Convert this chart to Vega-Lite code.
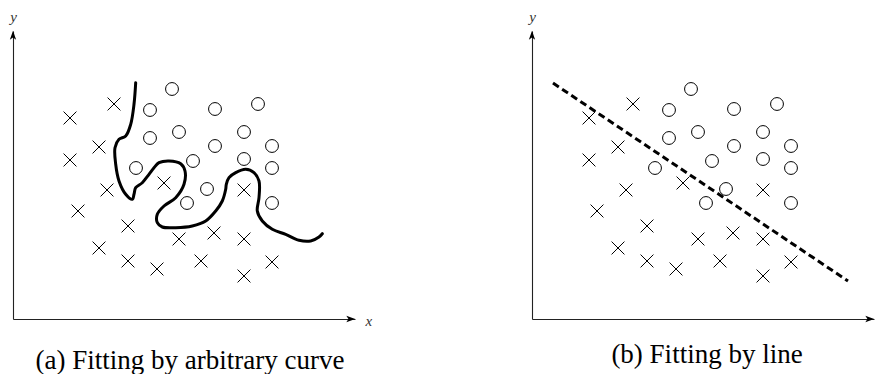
{
  "$schema": "https://vega.github.io/schema/vega-lite/v6.json",
  "background": "white",
  "padding": {"left": 9, "top": 9, "right": 4, "bottom": 0},
  "spacing": 156,
  "datasets": {
    "pts": [
      {"x": 57, "y": 201, "kind": "cross"},
      {"x": 101, "y": 215, "kind": "cross"},
      {"x": 86, "y": 172, "kind": "cross"},
      {"x": 57, "y": 159, "kind": "cross"},
      {"x": 94, "y": 129, "kind": "cross"},
      {"x": 65, "y": 108, "kind": "cross"},
      {"x": 115, "y": 93, "kind": "cross"},
      {"x": 86, "y": 71, "kind": "cross"},
      {"x": 115, "y": 58, "kind": "cross"},
      {"x": 144, "y": 50, "kind": "cross"},
      {"x": 151, "y": 136, "kind": "cross"},
      {"x": 166, "y": 80, "kind": "cross"},
      {"x": 188, "y": 58, "kind": "cross"},
      {"x": 201, "y": 86, "kind": "cross"},
      {"x": 231, "y": 80, "kind": "cross"},
      {"x": 231, "y": 129, "kind": "cross"},
      {"x": 231, "y": 43, "kind": "cross"},
      {"x": 259, "y": 57, "kind": "cross"},
      {"x": 159, "y": 230, "kind": "circle"},
      {"x": 137, "y": 209, "kind": "circle"},
      {"x": 202, "y": 210, "kind": "circle"},
      {"x": 245, "y": 215, "kind": "circle"},
      {"x": 166, "y": 187, "kind": "circle"},
      {"x": 137, "y": 181, "kind": "circle"},
      {"x": 231, "y": 187, "kind": "circle"},
      {"x": 202, "y": 173, "kind": "circle"},
      {"x": 259, "y": 173, "kind": "circle"},
      {"x": 123, "y": 151, "kind": "circle"},
      {"x": 180, "y": 158, "kind": "circle"},
      {"x": 231, "y": 160, "kind": "circle"},
      {"x": 259, "y": 151, "kind": "circle"},
      {"x": 194, "y": 130, "kind": "circle"},
      {"x": 174, "y": 116, "kind": "circle"},
      {"x": 259, "y": 116, "kind": "circle"}
    ],
    "curve": [
      {"i": 0, "x": 122.7, "y": 236.3},
      {"i": 1, "x": 121, "y": 214.7},
      {"i": 2, "x": 117.7, "y": 194.7},
      {"i": 3, "x": 112.7, "y": 183},
      {"i": 4, "x": 106, "y": 179.7},
      {"i": 5, "x": 102, "y": 171.3},
      {"i": 6, "x": 102.7, "y": 154.7},
      {"i": 7, "x": 106, "y": 138},
      {"i": 8, "x": 112.7, "y": 124.7},
      {"i": 9, "x": 119.3, "y": 119.7},
      {"i": 10, "x": 121, "y": 124.7},
      {"i": 11, "x": 122.7, "y": 131.3},
      {"i": 12, "x": 129.3, "y": 136.3},
      {"i": 13, "x": 136, "y": 144.7},
      {"i": 14, "x": 141, "y": 151.3},
      {"i": 15, "x": 146, "y": 156.3},
      {"i": 16, "x": 156, "y": 158},
      {"i": 17, "x": 167.7, "y": 155.3},
      {"i": 18, "x": 172, "y": 148},
      {"i": 19, "x": 171, "y": 134.7},
      {"i": 20, "x": 162.7, "y": 121.3},
      {"i": 21, "x": 151, "y": 113},
      {"i": 22, "x": 144.3, "y": 104.7},
      {"i": 23, "x": 144.3, "y": 96.3},
      {"i": 24, "x": 149.3, "y": 92},
      {"i": 25, "x": 162.7, "y": 91.3},
      {"i": 26, "x": 179.3, "y": 93},
      {"i": 27, "x": 192.7, "y": 98},
      {"i": 28, "x": 202.7, "y": 108},
      {"i": 29, "x": 209.3, "y": 118},
      {"i": 30, "x": 212.7, "y": 129.7},
      {"i": 31, "x": 213.3, "y": 134.7},
      {"i": 32, "x": 216, "y": 141.3},
      {"i": 33, "x": 222.7, "y": 146.3},
      {"i": 34, "x": 232.7, "y": 149.7},
      {"i": 35, "x": 241, "y": 146.3},
      {"i": 36, "x": 246, "y": 138},
      {"i": 37, "x": 246, "y": 121.3},
      {"i": 38, "x": 244.3, "y": 108},
      {"i": 39, "x": 249.3, "y": 98},
      {"i": 40, "x": 259.3, "y": 89.7},
      {"i": 41, "x": 272.7, "y": 84.7},
      {"i": 42, "x": 286, "y": 78.7},
      {"i": 43, "x": 297.7, "y": 78},
      {"i": 44, "x": 306, "y": 82},
      {"i": 45, "x": 309.3, "y": 85.3}
    ],
    "fitline": [
      {"x": 21, "y": 236},
      {"x": 316, "y": 38}
    ],
    "xarrow": [{"x": 337, "y": 0}],
    "yarrow": [{"x": 0, "y": 283}]
  },
  "hconcat": [
    {
      "width": 342,
      "height": 288,
      "title": {"text": "(a) Fitting by arbitrary curve", "orient": "bottom", "dx": 6, "offset": 20},
      "layer": [
        {
          "data": {"name": "pts"},
          "mark": {"type": "point", "filled": false, "opacity": 1, "stroke": "#000", "strokeWidth": 1, "size": 165},
          "encoding": {
            "x": {"field": "x", "type": "quantitative", "scale": {"domain": [0, 342], "nice": false, "zero": false},
                  "axis": {"title": "x", "titleAnchor": "end", "titleAlign": "left", "titleBaseline": "middle", "titleX": 352, "titleY": 1}},
            "y": {"field": "y", "type": "quantitative", "scale": {"domain": [0, 288], "nice": false, "zero": false},
                  "axis": {"title": "y", "titleAngle": 0, "titleAlign": "center", "titleBaseline": "middle", "titleX": 0, "titleY": -15}},
            "shape": {"field": "kind", "type": "nominal", "legend": null,
                      "scale": {"domain": ["cross", "circle"], "range": ["M-1,-1L1,1M-1,1L1,-1", "circle"]}}
          }
        },
        {
          "data": {"name": "curve"},
          "mark": {"type": "line", "interpolate": "catmull-rom", "stroke": "#000", "strokeWidth": 3, "strokeCap": "round", "strokeJoin": "round"},
          "encoding": {
            "x": {"field": "x", "type": "quantitative"},
            "y": {"field": "y", "type": "quantitative"},
            "order": {"field": "i", "type": "quantitative"}
          }
        },
        {
          "data": {"name": "xarrow"},
          "mark": {"type": "point", "shape": "M1,0L-0.7,0.6L-0.3,0L-0.7,-0.6Z", "filled": true, "color": "#000", "opacity": 1, "size": 110},
          "encoding": {"x": {"field": "x", "type": "quantitative"}, "y": {"field": "y", "type": "quantitative"}}
        },
        {
          "data": {"name": "yarrow"},
          "mark": {"type": "point", "shape": "M0,-1L0.6,0.7L0,0.3L-0.6,0.7Z", "filled": true, "color": "#000", "opacity": 1, "size": 110},
          "encoding": {"x": {"field": "x", "type": "quantitative"}, "y": {"field": "y", "type": "quantitative"}}
        }
      ]
    },
    {
      "width": 342,
      "height": 288,
      "title": {"text": "(b) Fitting by line", "orient": "bottom", "dx": 4, "offset": 20},
      "layer": [
        {
          "data": {"name": "pts"},
          "mark": {"type": "point", "filled": false, "opacity": 1, "stroke": "#000", "strokeWidth": 1, "size": 165},
          "encoding": {
            "x": {"field": "x", "type": "quantitative", "scale": {"domain": [0, 342], "nice": false, "zero": false}, "axis": {"title": null}},
            "y": {"field": "y", "type": "quantitative", "scale": {"domain": [0, 288], "nice": false, "zero": false},
                  "axis": {"title": "y", "titleAngle": 0, "titleAlign": "center", "titleBaseline": "middle", "titleX": 0, "titleY": -15}},
            "shape": {"field": "kind", "type": "nominal", "legend": null,
                      "scale": {"domain": ["cross", "circle"], "range": ["M-1,-1L1,1M-1,1L1,-1", "circle"]}}
          }
        },
        {
          "data": {"name": "fitline"},
          "mark": {"type": "line", "stroke": "#000", "strokeWidth": 3, "strokeDash": [7, 4]},
          "encoding": {
            "x": {"field": "x", "type": "quantitative"},
            "y": {"field": "y", "type": "quantitative"}
          }
        },
        {
          "data": {"name": "xarrow"},
          "mark": {"type": "point", "shape": "M1,0L-0.7,0.6L-0.3,0L-0.7,-0.6Z", "filled": true, "color": "#000", "opacity": 1, "size": 110},
          "encoding": {"x": {"field": "x", "type": "quantitative"}, "y": {"field": "y", "type": "quantitative"}}
        },
        {
          "data": {"name": "yarrow"},
          "mark": {"type": "point", "shape": "M0,-1L0.6,0.7L0,0.3L-0.6,0.7Z", "filled": true, "color": "#000", "opacity": 1, "size": 110},
          "encoding": {"x": {"field": "x", "type": "quantitative"}, "y": {"field": "y", "type": "quantitative"}}
        }
      ]
    }
  ],
  "config": {
    "view": {"stroke": null},
    "axis": {"grid": false, "ticks": false, "labels": false, "domainColor": "#222", "domainWidth": 1.1,
             "titleFont": "Liberation Serif", "titleFontStyle": "italic", "titleFontWeight": "normal", "titleFontSize": 15, "titleColor": "#333"},
    "title": {"font": "Liberation Serif", "fontSize": 27, "fontWeight": "normal", "color": "#000", "anchor": "middle", "baseline": "top"}
  }
}
